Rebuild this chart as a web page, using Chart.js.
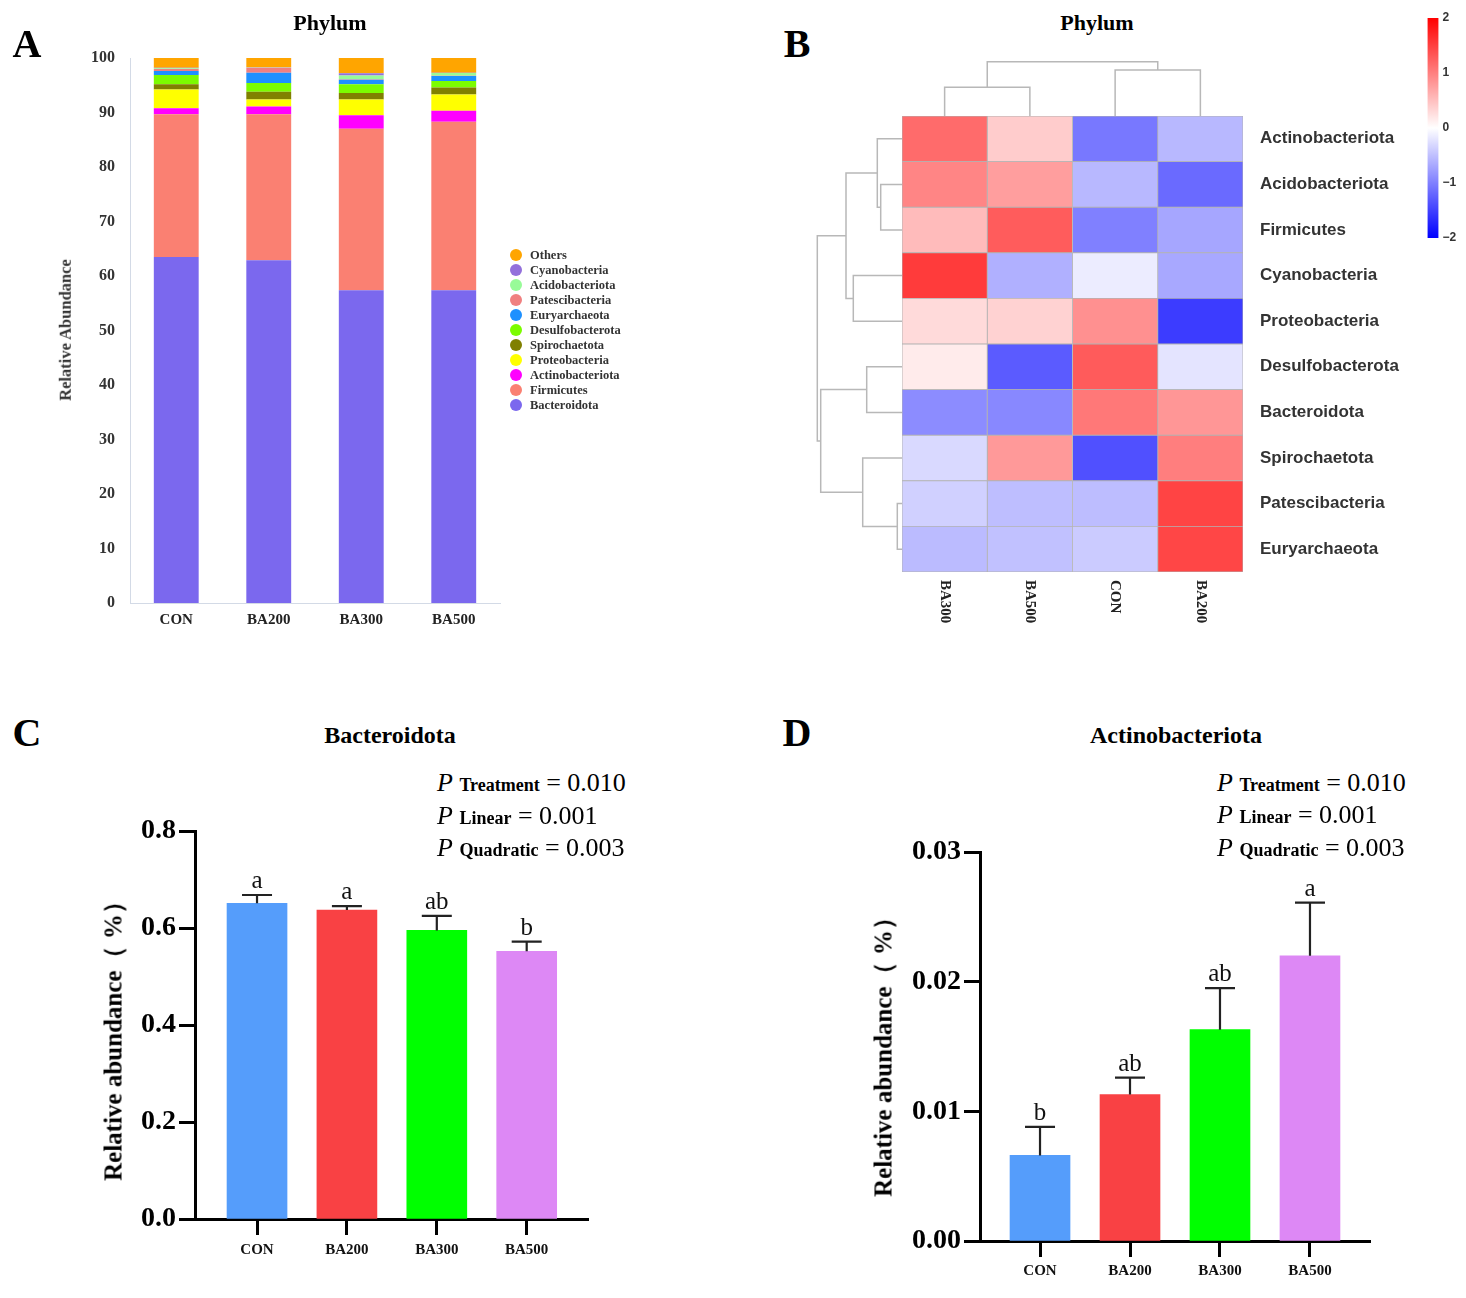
<!DOCTYPE html>
<html><head><meta charset="utf-8">
<script src="https://cdn.jsdelivr.net/npm/chart.js@4.4.1/dist/chart.umd.min.js"></script>
<style>
html,body{margin:0;padding:0;background:#fff;}
#page{position:relative;width:1466px;height:1298px;overflow:hidden;font-family:"Liberation Serif","Times New Roman",serif;color:#000;}
#page canvas{position:absolute;}
.t{position:absolute;white-space:nowrap;line-height:1;}
.c{transform:translate(-50%,-50%);}
.l{transform:translate(0,-50%);}
.r{transform:translate(-50%,-50%) rotate(-90deg);}
.p{font-size:26px;}
.p i{font-style:italic;}
.p b{font-size:18px;}
</style></head><body>
<div id="page">
<canvas id="cA" width="733" height="650" style="left:0;top:0"></canvas>
<canvas id="cB" width="530" height="560" style="left:890px;top:100px"></canvas>
<canvas id="cRD" width="100" height="480" style="left:805px;top:100px"></canvas>
<canvas id="cCD" width="355" height="70" style="left:895px;top:50px"></canvas>
<canvas id="cBar" width="51" height="248" style="left:1415px;top:0px"></canvas>
<canvas id="cC" width="520" height="480" style="left:90px;top:800px"></canvas>
<canvas id="cD" width="530" height="475" style="left:860px;top:820px"></canvas>

<div class="t c" style="left:27px;top:44px;font-size:40px;font-weight:bold">A</div>
<div class="t c" style="left:330px;top:23px;font-size:22px;font-weight:bold">Phylum</div>
<div class="t r" style="left:66px;top:330px;font-size:16.5px;font-weight:bold;color:#333">Relative Abundance</div>

<div class="t c" style="left:797px;top:44px;font-size:40px;font-weight:bold">B</div>
<div class="t c" style="left:1097px;top:23px;font-size:22px;font-weight:bold">Phylum</div>

<div class="t c" style="left:27px;top:733px;font-size:40px;font-weight:bold">C</div>
<div class="t c" style="left:390px;top:735px;font-size:24px;font-weight:bold">Bacteroidota</div>
<div class="t l p" style="left:437px;top:783px"><i>P</i> <b>Treatment</b> = 0.010</div>
<div class="t l p" style="left:437px;top:816px"><i>P</i> <b>Linear</b> = 0.001</div>
<div class="t l p" style="left:437px;top:848px"><i>P</i> <b>Quadratic</b> = 0.003</div>
<div class="t r" style="left:113px;top:1035px;font-size:25px;font-weight:bold">Relative abundance（ %）</div>

<div class="t c" style="left:797px;top:733px;font-size:40px;font-weight:bold">D</div>
<div class="t c" style="left:1176px;top:735px;font-size:24px;font-weight:bold">Actinobacteriota</div>
<div class="t l p" style="left:1217px;top:783px"><i>P</i> <b>Treatment</b> = 0.010</div>
<div class="t l p" style="left:1217px;top:815px"><i>P</i> <b>Linear</b> = 0.001</div>
<div class="t l p" style="left:1217px;top:848px"><i>P</i> <b>Quadratic</b> = 0.003</div>
<div class="t r" style="left:883px;top:1051px;font-size:25px;font-weight:bold">Relative abundance（ %）</div>
</div>
<script>
// ---------- Panel A data ----------
const groupsA = ['CON','BA200','BA300','BA500'];
const phylaA = ['Bacteroidota','Firmicutes','Actinobacteriota','Proteobacteria','Spirochaetota','Desulfobacterota','Euryarchaeota','Patescibacteria','Acidobacteriota','Cyanobacteria','Others'];
const colorsA = ['#7B68EE','#FA8072','#FF00FF','#FFFF00','#808000','#7CFC00','#1E90FF','#F08080','#98FB98','#9370DB','#FFA500'];
const bacteroidota     = [63.5, 62.9, 57.4, 57.4];
const firmicutes       = [26.2, 26.8, 29.6, 30.9];
const actinobacteriota = [1.1, 1.4, 2.5, 2.0];
const proteobacteria   = [3.4, 1.3, 2.9, 3.0];
const spirochaetota    = [1.0, 1.4, 1.2, 1.3];
const desulfobacterota = [1.7, 1.6, 1.6, 1.2];
const euryarchaeota    = [0.7, 1.9, 0.8, 0.9];
const patescibacteria  = [0.4, 0.9, 0.1, 0.05];
const acidobacteriota  = [0.1, 0.05, 0.7, 0.5];
const cyanobacteria    = [0.1, 0.05, 0.4, 0.05];
const others           = [1.8, 1.7, 2.8, 2.7];
const yTicksA = [0,10,20,30,40,50,60,70,80,90,100];

// ---------- Panel B data ----------
const heatRows = ['Actinobacteriota','Acidobacteriota','Firmicutes','Cyanobacteria','Proteobacteria','Desulfobacterota','Bacteroidota','Spirochaetota','Patescibacteria','Euryarchaeota'];
const heatCols = ['BA300','BA500','CON','BA200'];
const zBA300 = [1.16, 0.96, 0.53, 1.54, 0.29, 0.16, -0.90, -0.30, -0.37, -0.53];
const zBA500 = [0.40, 0.76, 1.28, -0.62, 0.35, -1.29, -0.93, 0.80, -0.51, -0.49];
const zCON   = [-1.06, -0.56, -1.00, -0.15, 0.87, 1.29, 1.06, -1.37, -0.52, -0.41];
const zBA200 = [-0.56, -1.17, -0.70, -0.68, -1.53, -0.21, 0.82, 1.01, 1.47, 1.45];
// linkage: [childA, childB, height]  (leaves 0..n-1, new clusters n, n+1, ...)
const rowMerges = [[8,9,4.7],[1,2,21.3],[0,11,24.7],[5,6,35.3],[7,10,39.3],[3,4,48.7],[12,15,56],[13,14,81.3],[16,17,84.7]];
const colMerges = [[0,1,28.7],[2,3,46],[4,5,54.3]];
const colorbarTicks = [-2,-1,0,1,2];

// ---------- Panels C / D data ----------
const groups = ['CON','BA200','BA300','BA500'];
const barColors = ['#559DFB','#F94144','#00FF00','#DD88F5'];
const bactMean = [0.651, 0.637, 0.595, 0.552];
const bactSD   = [0.017, 0.008, 0.030, 0.020];
const bactLetters = ['a','a','ab','b'];
const bactTicks = [0, 0.2, 0.4, 0.6, 0.8];
const actMean = [0.0066, 0.0113, 0.0163, 0.0220];
const actSD   = [0.0022, 0.0013, 0.0032, 0.0041];
const actLetters = ['b','ab','ab','a'];
const actTicks = [0, 0.01, 0.02, 0.03];

Chart.defaults.font.family = '"Liberation Serif","Times New Roman",serif';
Chart.defaults.color = '#000';
Chart.defaults.animation = false;
Chart.defaults.responsive = false;
Chart.defaults.plugins.legend.display = false;
Chart.defaults.plugins.tooltip.enabled = false;

function noPad(s){ s.paddingTop = 0; s.paddingBottom = 0; s.paddingLeft = 0; s.paddingRight = 0; }

// ---------- Panel A ----------
const seriesA = [bacteroidota,firmicutes,actinobacteriota,proteobacteria,spirochaetota,desulfobacterota,euryarchaeota,patescibacteria,acidobacteriota,cyanobacteria,others];
const legendA = {id:'legendA', afterDraw(ch){
  const ctx = ch.ctx; const ds = ch.data.datasets.slice().reverse();
  ctx.save(); ctx.font = 'bold 12.5px "Liberation Serif"'; ctx.textBaseline = 'middle'; ctx.textAlign='left';
  ds.forEach((d,i)=>{ const y = 255 + i*15;
    ctx.fillStyle = d.backgroundColor; ctx.beginPath(); ctx.arc(516, y, 6, 0, Math.PI*2); ctx.fill();
    ctx.fillStyle = '#333'; ctx.fillText(d.label, 530, y+0.5); });
  ctx.restore(); }};
new Chart(document.getElementById('cA'), {type:'bar',
  data:{labels:groupsA, datasets: phylaA.map((p,i)=>({label:p, data:seriesA[i], backgroundColor:colorsA[i], borderWidth:0, barPercentage:0.485, categoryPercentage:1}))},
  options:{layout:{padding:{top:58,right:233,left:0,bottom:0}},
    scales:{
      x:{stacked:true, grid:{display:false, drawTicks:false}, border:{display:true,color:'#d3dae6',width:1},
         ticks:{font:{weight:'bold',size:15}, color:'#222', padding:8}, afterFit:s=>{s.height=47;}},
      y:{stacked:true, min:0, max:100, afterBuildTicks:s=>{s.ticks=yTicksA.map(v=>({value:v}));},
         ticks:{font:{weight:'bold',size:16}, color:'#333', padding:15},
         grid:{display:false, drawTicks:false}, border:{display:true,color:'#d3dae6',width:1}, afterFit:s=>{s.width=130;}}
    }},
  plugins:[legendA]});

// ---------- Panel B heatmap ----------
const zCols = [zBA300, zBA500, zCON, zBA200];
function zColor(z){ const t = Math.min(1, Math.abs(z)/2); const c = Math.round(255*(1-t));
  return z >= 0 ? `rgb(255,${c},${c})` : `rgb(${c},${c},255)`; }
const colLabels = {id:'colLabels', afterDraw(ch){
  const ctx = ch.ctx, xs = ch.scales.x, top = ch.chartArea.bottom + 8;
  ctx.save(); ctx.font = 'bold 15px "Liberation Serif"'; ctx.fillStyle = '#222'; ctx.textAlign='left'; ctx.textBaseline='middle';
  ch.data.datasets.forEach((d,j)=>{ ctx.save(); ctx.translate(xs.getPixelForValue(j+0.5), top); ctx.rotate(Math.PI/2); ctx.fillText(d.label,0,0); ctx.restore(); });
  ctx.restore(); }};
new Chart(document.getElementById('cB'), {type:'bar',
  data:{labels:heatRows, datasets: heatCols.map((col,j)=>({label:col, data: heatRows.map(()=>[j, j+1]),
     backgroundColor: zCols[j].map(zColor), borderColor:'#b3b3b3', borderWidth:0.8, borderSkipped:false,
     barPercentage:1, categoryPercentage:1, grouped:false}))},
  options:{indexAxis:'y', layout:{padding:{left:12,top:16,bottom:88,right:0}},
    scales:{
      x:{type:'linear', min:0, max:4, display:false},
      y:{position:'right', grid:{display:false, drawTicks:false}, border:{display:false},
         ticks:{padding:17, color:'#333', font:{family:'"Liberation Sans",Arial,sans-serif', weight:'bold', size:17}},
         afterFit:s=>{s.width=177; noPad(s);}}
    }},
  plugins:[colLabels]});

// dendrograms
function dendroPoints(nLeaves, merges, horizontal){
  const pos = [], ht = [], pts = [];
  for (let i=0;i<nLeaves;i++){ pos.push(i); ht.push(0); }
  merges.forEach(([a,b,h])=>{
    const pa = pos[a], pb = pos[b];
    [[pa,ht[a]],[pa,h],[pb,h],[pb,ht[b]]].forEach(([p,v])=>pts.push(horizontal?{x:v,y:p}:{x:p,y:v}));
    pts.push({x:null,y:null});
    pos.push((pa+pb)/2); ht.push(h);
  });
  return pts;
}
const dendroStyle = {showLine:true, borderColor:'#b8b8b8', borderWidth:1.5, pointRadius:0, clip:false, tension:0, spanGaps:false};
new Chart(document.getElementById('cRD'), {type:'scatter',
  data:{datasets:[Object.assign({data:dendroPoints(heatRows.length,rowMerges,true)}, dendroStyle)]},
  options:{layout:{padding:{left:12.3,right:3,top:16,bottom:8}},
    scales:{x:{type:'linear',min:0,max:84.7,reverse:true,display:false},
            y:{type:'linear',min:-0.5,max:heatRows.length-0.5,reverse:true,display:false}}}});
new Chart(document.getElementById('cCD'), {type:'scatter',
  data:{datasets:[Object.assign({data:dendroPoints(heatCols.length,colMerges,false)}, dendroStyle)]},
  options:{layout:{padding:{left:7,right:7,top:11.7,bottom:4}},
    scales:{x:{type:'linear',min:-0.5,max:heatCols.length-0.5,display:false},
            y:{type:'linear',min:0,max:54.3,display:false}}}});

// colorbar
new Chart(document.getElementById('cBar'), {type:'bar',
  data:{labels:[''], datasets:[{data:[[colorbarTicks[0], colorbarTicks[colorbarTicks.length-1]]], barPercentage:1, categoryPercentage:1, borderWidth:0,
     backgroundColor:(c)=>{ const a = c.chart.chartArea; if(!a) return '#fff';
        const g = c.chart.ctx.createLinearGradient(0,a.bottom,0,a.top);
        g.addColorStop(0,'#0000ff'); g.addColorStop(0.5,'#ffffff'); g.addColorStop(1,'#ff0000'); return g; }}]},
  options:{layout:{padding:{left:12.5,right:0,top:18,bottom:10}},
    scales:{x:{display:false},
      y:{position:'right', min:-2, max:2, afterBuildTicks:s=>{s.ticks=colorbarTicks.map(v=>({value:v}));},
         grid:{display:false, drawTicks:false}, border:{display:false},
         ticks:{padding:4, color:'#333', font:{family:'"Liberation Sans",Arial,sans-serif', weight:'bold', size:12},
                callback:v=> v<0 ? '\u2212'+Math.abs(v) : String(v)},
         afterFit:s=>{s.width=27.5; noPad(s);}}}}});

// ---------- Panels C / D ----------
function errPlugin(sd, letters){ return {id:'err', afterDatasetsDraw(ch){
  const ctx = ch.ctx, xs = ch.scales.x, ys = ch.scales.y, ds = ch.data.datasets[0];
  ctx.save(); ctx.strokeStyle = '#222'; ctx.lineWidth = 2.2; ctx.fillStyle = '#111';
  ctx.font = '25px "Liberation Serif"'; ctx.textAlign = 'center'; ctx.textBaseline = 'alphabetic';
  ds.data.forEach((p,i)=>{ const x = xs.getPixelForValue(p.x), y0 = ys.getPixelForValue(p.y), y1 = ys.getPixelForValue(p.y + sd[i]);
    ctx.beginPath(); ctx.moveTo(x,y0); ctx.lineTo(x,y1); ctx.moveTo(x-15,y1); ctx.lineTo(x+15,y1); ctx.stroke();
    ctx.fillText(letters[i], x, y1-7); });
  ctx.restore(); }}; }
function barPanel(id, mean, sd, letters, yTicks, o){
  return new Chart(document.getElementById(id), {type:'bar',
    data:{datasets:[{data: groups.map((g,i)=>({x:i, y:mean[i]})), backgroundColor:barColors, barThickness:60, borderWidth:0}]},
    options:{layout:{padding:{top:o.padTop,right:o.padRight,left:0,bottom:0}},
      scales:{
        x:{type:'linear', offset:false, min:o.xmin, max:o.xmax, afterBuildTicks:s=>{s.ticks=groups.map((g,i)=>({value:i}));},
           ticks:{callback:v=>groups[v], font:{weight:'bold',size:15}, color:'#111', padding:o.xPad},
           grid:{offset:false, drawOnChartArea:false, tickLength:16, tickWidth:3, tickColor:'#000'},
           border:{display:true,width:3,color:'#000'}, afterFit:s=>{s.height=o.xH;}},
        y:{min:0, max:yTicks[yTicks.length-1], afterBuildTicks:s=>{s.ticks=yTicks.map(v=>({value:v}));},
           ticks:{callback:v=>v.toFixed(o.dec), font:{weight:'bold',size:28}, color:'#000', padding:3},
           grid:{drawOnChartArea:false, tickLength:16, tickWidth:3, tickColor:'#000'},
           border:{display:true,width:3,color:'#000'}, afterFit:s=>{s.width=o.yW;}}
      }},
    plugins:[errPlugin(sd, letters)]});
}
barPanel('cC', bactMean, bactSD, bactLetters, bactTicks, {padTop:31, padRight:22, yW:105, xH:61, xmin:-0.69, xmax:3.682, dec:1, xPad:6});
barPanel('cD', actMean, actSD, actLetters, actTicks, {padTop:32, padRight:20, yW:120, xH:54, xmin:-0.667, xmax:3.667, dec:2, xPad:5});
</script>
</body></html>
